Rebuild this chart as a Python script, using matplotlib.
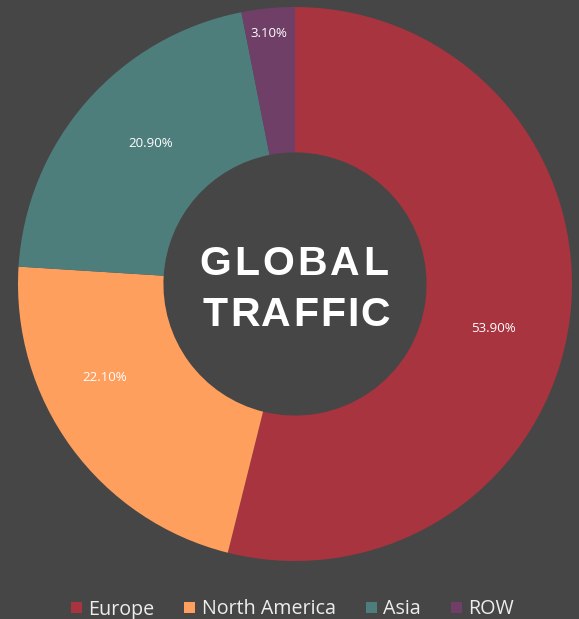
import matplotlib
matplotlib.use("Agg")
import matplotlib.pyplot as plt
from matplotlib.patches import Patch
from matplotlib.transforms import IdentityTransform
from matplotlib.font_manager import findfont, FontProperties
from matplotlib.ft2font import FT2Font

categories = ["Europe", "North America", "Asia", "ROW"]
values = [53.9, 22.1, 20.9, 3.1]
colors = ["#A8343F", "#FE9F5E", "#4E7E7C", "#6F3F68"]
center_lines = ["GLOBAL", "TRAFFIC"]

# label placement (data units, pie radius = 1)
label_xy = [(0.715, -0.159), (-0.686, -0.339), (-0.523, 0.509), (-0.094, 0.903)]

bg = "#464646"
W, H = 579, 619
DPI = 100
fig = plt.figure(figsize=(W / DPI, H / DPI), dpi=DPI, facecolor=bg)
R = 277
cx, cy = 295, H - 284
ax = fig.add_axes([(cx - R) / W, (cy - R) / H, 2 * R / W, 2 * R / H])
ax.set_facecolor(bg)

wedges, texts, autotexts = ax.pie(
    values, colors=colors, startangle=90, counterclock=False,
    radius=1.0, wedgeprops=dict(width=1 - 0.475, linewidth=0),
    autopct=lambda p: f"{p:.2f}%", pctdistance=0.75,
    textprops=dict(color="white", fontsize=9.5, family=["Open Sans", "DejaVu Sans"]))
for t, xy in zip(autotexts, label_xy):
    t.set_position(xy)
ax.set_xlim(-1, 1)
ax.set_ylim(-1, 1)
ax.set_aspect("equal")
ax.axis("off")

# letter-spaced bold centre title
fp = FontProperties(family="Liberation Sans", weight="bold")
font = FT2Font(findfont(fp))
size_pt = 29.5
font.set_size(size_pt, DPI)


def spaced_text(s, xc, yb, spacing):
    adv = []
    for c in s:
        g = font.load_char(ord(c))
        adv.append(g.linearHoriAdvance / 65536.0)
    total = sum(adv) + spacing * (len(s) - 1)
    x = xc - total / 2
    for c, a in zip(s, adv):
        fig.text(x + a / 2, yb, c, transform=IdentityTransform(), ha="center",
                 va="baseline", color="white", fontsize=size_pt,
                 fontweight="bold", family=["Liberation Sans", "DejaVu Sans"])
        x += a + spacing


spaced_text(center_lines[0], 293.5, H - 275, 3.2)
spaced_text(center_lines[1], 296.5, H - 326, 2.0)

handles = [Patch(facecolor=c, edgecolor="none") for c in colors]
leg = fig.legend(handles, categories, loc="center", bbox_to_anchor=(292.5 / W, 1 - 609.5 / H),
                 ncol=4, frameon=False, handlelength=0.55, handleheight=0.55,
                 handletextpad=0.35, columnspacing=1.5,
                 prop=dict(family=["Open Sans", "DejaVu Sans"], size=14.2))
for t in leg.get_texts():
    t.set_color("#EDEDED")

fig.savefig("out.png", dpi=DPI, facecolor=bg)
